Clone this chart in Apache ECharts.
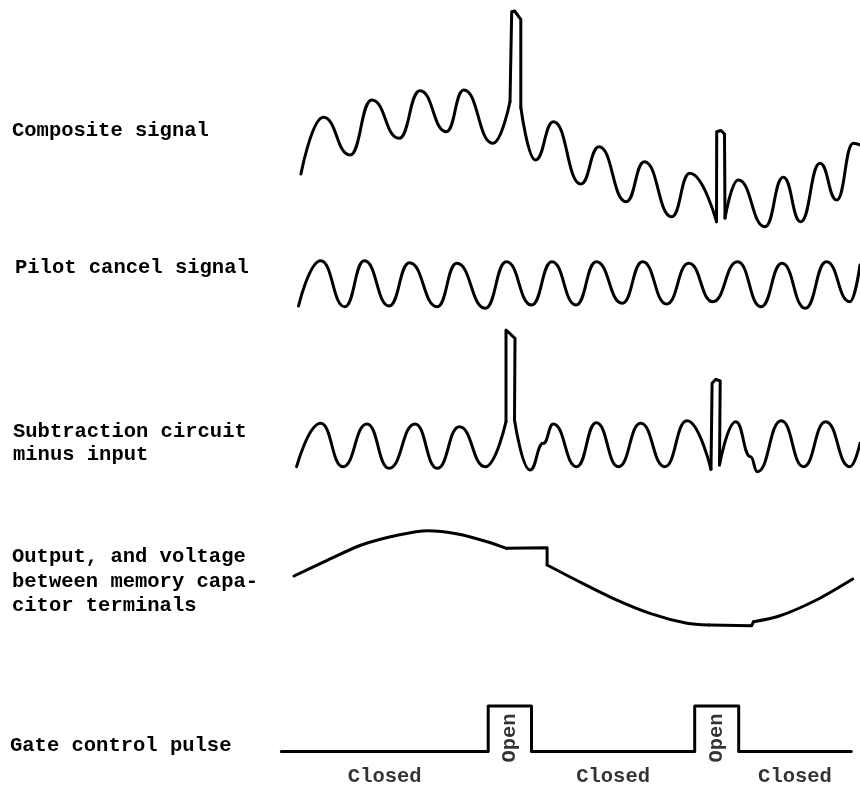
<!DOCTYPE html>
<html><head><meta charset="utf-8">
<script src="https://cdn.jsdelivr.net/npm/echarts@6/dist/echarts.min.js"></script>
<style>html,body{margin:0;padding:0;background:#fff}#c{width:860px;height:787px}</style>
</head><body><div id="c"></div>
<script>
// ---- DATA (time in arbitrary units 0..580, amplitude in arbitrary units per trace) ----
const traceLabels = [
  ['Composite signal'],
  ['Pilot cancel signal'],
  ['Subtraction circuit', 'minus input'],
  ['Output, and voltage', 'between memory capa-', 'citor terminals'],
  ['Gate control pulse']
];

// Composite signal: wave pieces (smooth) and gate-period spikes (straight)
const compositeWave1 = [[20.9,76],[43.4,132.7],[70,95],[91.8,150],[119,111.7],[140,159.3],[166.3,118.3],[183.8,160],[212.8,106.7],[230,148.3]];
const compositeSpike1 = [[230,148.3],[231.7,150],[231.7,238.3],[234.6,239],[240.8,230.7],[240.8,142.7]];
const compositeWave2 = [[240.8,142.7],[255.4,90],[273.5,128.3],[300.8,66],[319,103.3],[346.2,48.3],[364.4,88.3],[391.7,33.3],[409.8,76.7],[436.5,28.3]];
const compositeSpike2 = [[436.5,28.3],[436.7,118.3],[441,119.5],[444.5,116],[445,32]];
const compositeWave3 = [[445,32],[458.3,70],[485,23.3],[503.3,72.7],[520.7,28.3],[540,86.7],[556.7,50],[573.3,106.7],[580,105]];

// Pilot cancel signal
const pilotWave = [[18.5,14],[40.7,59.3],[64.7,13.3],[84.4,59.3],[109.1,14],[129.5,57.3],[157.2,13.3],[176.8,56.7],[205.3,11.7],[226.4,58.3],[251.6,15],[271.9,58.3],[296,15],[316.3,58.3],[342.2,16.7],[362.6,58.3],[386.6,16],[408.8,56.7],[432.8,18.3],[457.6,58.3],[481,13.3],[502,56.7],[525.3,11.7],[546.4,58.3],[569.7,18.3],[580,55]];

// Subtraction circuit minus input
const subWave1 = [[16.6,13.3],[40.7,56.7],[62.9,13.3],[86.9,56],[109.1,11.7],[135,56],[157.2,11.7],[179.4,53.3],[205.3,13.3],[226,58.3]];
const subSpike1 = [[226,58.3],[226,150],[227.3,150.5],[235,141.7],[234.5,60]];
const subWave2 = [[234.5,60],[250,10],[263.3,36.7],[273.3,56],[296.7,13.3],[316.3,57.3],[338.5,13.3],[360.7,56.7],[384.8,13.3],[407,59.3],[431,10.7]];
const subSpike2 = [[431,10.7],[432.1,96.7],[435.8,100.7],[440.2,99],[439.5,15]];
const subWave3 = [[439.5,15],[455.8,58.3],[470.6,23.3],[477.3,8.3],[501.3,59.3],[523.5,13.3],[545.7,58.3],[569.7,13.3],[580,36.7]];

// Output / memory capacitor voltage
const outCurve1 = [[14,64],[44.4,78.3],[81.4,95],[118.4,105],[148,109.3],[177.6,106],[207.2,98.3],[226.4,91.7]];
const outHold1 = [[226.4,91.7],[267.1,92.3],[267.1,75]];
const outCurve2 = [[267.1,75],[296,60],[333,41.7],[370,26.7],[407,16.7],[429.2,15]];
const outHold2 = [[429.2,15],[471.7,14.3],[473.5,18.3]];
const outCurve3 = [[473.5,18.3],[499.4,24],[536.4,40],[572.7,61]];

// Gate control pulse
const gateEdges = [1.3, 208.2, 251.5, 414.7, 458.7, 571.3];
const gateStates = ['Closed', 'Open', 'Closed', 'Open', 'Closed'];
const gateLow = 35.5, gateHigh = 81;
const closedLabelLevel = 10.5, openLabelLevel = 49;

// ---- LAYOUT ----
const panels = [
  {top: 0,   height: 250},
  {top: 250, height: 70},
  {top: 320, height: 160},
  {top: 490, height: 150},
  {top: 690, height: 97}
];
const labelPos = [
  {x: 12, y: [131]},
  {x: 15, y: [268]},
  {x: 13, y: [432, 455]},
  {x: 12, y: [557, 582, 606]},
  {x: 10, y: [746]}
];
const FONT = '"Liberation Mono", "DejaVu Sans Mono", monospace';
const FS = 20.5;

const grids = panels.map(p => ({left: 280, right: 0, top: p.top, height: p.height}));
const xAxes = panels.map((p, i) => ({type: 'value', gridIndex: i, min: 0, max: 580, show: false}));
const yAxes = panels.map((p, i) => ({type: 'value', gridIndex: i, min: 0, max: p.height, show: false}));

function line(data, gi, mode) {
  const s = {
    type: 'line', xAxisIndex: gi, yAxisIndex: gi, data: data,
    symbol: 'none', showSymbol: false, clip: false, silent: true,
    lineStyle: {color: '#000', width: 3, cap: 'round', join: 'round'}
  };
  if (mode === 'wave') { s.smooth = 0.5; s.smoothMonotone = 'x'; }
  else if (mode === 'curve') { s.smooth = 0.3; }
  return s;
}

// gate step path from edges
const gatePath = [];
gateEdges.forEach((t, i) => {
  if (i === 0) { gatePath.push([t, gateLow]); return; }
  const prevHigh = gateStates[i - 1] === 'Open';
  if (i === gateEdges.length - 1) { gatePath.push([t, prevHigh ? gateHigh : gateLow]); return; }
  const nextHigh = gateStates[i] === 'Open';
  gatePath.push([t, prevHigh ? gateHigh : gateLow]);
  gatePath.push([t, nextHigh ? gateHigh : gateLow]);
});
const gateLabels = gateStates.map((s, i) => ({
  name: s,
  value: [(gateEdges[i] + gateEdges[i + 1]) / 2, s === 'Open' ? openLabelLevel : closedLabelLevel],
  label: {rotate: s === 'Open' ? 90 : 0}
}));

const series = [
  line(compositeWave1, 0, 'wave'), line(compositeSpike1, 0, 'poly'),
  line(compositeWave2, 0, 'wave'), line(compositeSpike2, 0, 'poly'),
  line(compositeWave3, 0, 'wave'),
  line(pilotWave, 1, 'wave'),
  line(subWave1, 2, 'wave'), line(subSpike1, 2, 'poly'),
  line(subWave2, 2, 'wave'), line(subSpike2, 2, 'poly'),
  line(subWave3, 2, 'wave'),
  line(outCurve1, 3, 'curve'), line(outHold1, 3, 'poly'),
  line(outCurve2, 3, 'curve'), line(outHold2, 3, 'poly'),
  line(outCurve3, 3, 'curve'),
  line(gatePath, 4, 'poly'),
  {
    type: 'scatter', xAxisIndex: 4, yAxisIndex: 4, symbolSize: 0, silent: true,
    data: gateLabels,
    label: {show: true, position: 'inside', formatter: p => p.name,
      fontFamily: FONT, fontSize: FS, fontWeight: 'bold', color: '#000'}
  }
];

const graphics = [];
traceLabels.forEach((lines, i) => {
  lines.forEach((t, j) => {
    graphics.push({type: 'text', x: labelPos[i].x, y: labelPos[i].y[j], silent: true,
      style: {text: t, font: 'bold ' + FS + 'px ' + FONT, fill: '#000', verticalAlign: 'middle', align: 'left'}});
  });
});

const chart = echarts.init(document.getElementById('c'), null, {renderer: 'canvas'});
chart.setOption({
  animation: false,
  backgroundColor: '#fff',
  grid: grids, xAxis: xAxes, yAxis: yAxes,
  series: series,
  graphic: graphics
});
</script></body></html>
